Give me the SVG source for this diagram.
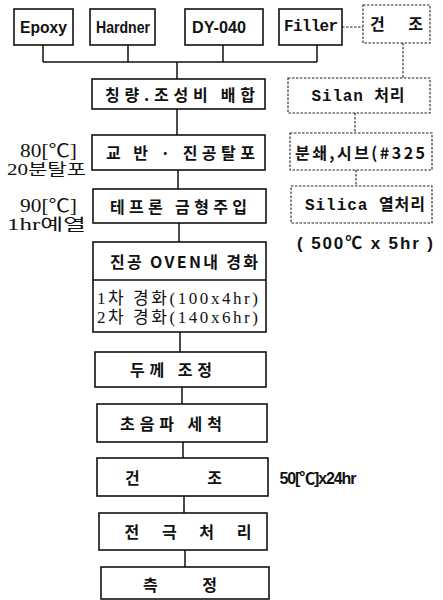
<svg xmlns="http://www.w3.org/2000/svg" width="443" height="600" viewBox="0 0 443 600">
<style>
.box{fill:#fff;stroke:#111;stroke-width:1.6}
.dbox{fill:#fff;stroke:#222;stroke-width:1.1;stroke-dasharray:2.5 1.5}
.ln{stroke:#111;stroke-width:1.5;fill:none}
.dln{stroke:#222;stroke-width:1.1;stroke-dasharray:2.5 1.5;fill:none}
text{fill:#111;dominant-baseline:central;text-anchor:middle}
.ko{font-family:"Noto Sans CJK KR",sans-serif;font-size:16px;font-weight:bold}
.en{font-family:"Liberation Sans","Noto Sans CJK KR",sans-serif;font-size:17px;font-weight:bold}
.mono{font-family:"Liberation Mono","Noto Sans CJK KR",monospace;font-size:16px;font-weight:bold}
.ser{font-family:"Liberation Serif","Noto Sans CJK KR",serif;font-size:17px}
.lbl{font-family:"Liberation Serif","Noto Sans CJK KR",serif;font-size:17px;text-anchor:end}
</style>
<rect width="443" height="600" fill="#fff"/>
<g id="connectors">
<path class="ln" d="M43 45V62M128 45V62M223 45V62M317 45V62M43 62H317M177 62V79"/>
<path class="ln" d="M177 109V135M178 170V189M179 223V242M180 332V352M182 387V404M183 442V458M184 496V513M185 550V567"/>
<path class="dln" d="M342 27H363M403 43V78M355 113V133M356 170V186"/>
</g>
<g id="epoxy"><rect class="box" x="14" y="9" width="59" height="36"/><text class="en" x="43.5" y="27" textLength="47" lengthAdjust="spacingAndGlyphs">Epoxy</text></g>
<g id="hardner"><rect class="box" x="90" y="9" width="65" height="36"/><text class="en" x="123" y="27" textLength="54" lengthAdjust="spacingAndGlyphs">Hardner</text></g>
<g id="dy040"><rect class="box" x="185" y="9" width="78" height="36"/><text class="en" x="219" y="27" textLength="54" lengthAdjust="spacingAndGlyphs">DY-040</text></g>
<g id="filler"><rect class="box" x="279" y="9" width="63" height="36"/><text class="mono" x="311" y="27" textLength="54">Filler</text></g>
<g id="dry1"><rect class="dbox" x="363" y="5" width="67" height="38"/><text class="ko" x="396.5" y="23" textLength="53">건 조</text></g>
<g id="silan"><rect class="dbox" x="288" y="78" width="142" height="35"/><text class="mono" x="358" y="97" textLength="93">Silan 처리</text></g>
<g id="crush"><rect class="dbox" x="290" y="133" width="142" height="37"/><text class="ko" x="360" y="152" textLength="130">분쇄,시브(#325</text></g>
<g id="silica"><rect class="dbox" x="291" y="186" width="141" height="37"/><text class="mono" x="365" y="206" textLength="120">Silica 열처리</text></g>
<g id="silica-note"><text class="en" x="365" y="243" textLength="136">( 500℃ x 5hr )</text></g>
<g id="weigh"><rect class="box" x="92" y="79" width="173" height="30"/><text class="ko" x="180" y="94" textLength="150">칭량.조성비 배합</text></g>
<g id="stir"><rect class="box" x="92" y="135" width="173" height="35"/><text class="ko" x="180.5" y="152" textLength="149">교 반 · 진공탈포</text><text class="lbl" x="77" y="151" textLength="57" lengthAdjust="spacingAndGlyphs" style="font-size:18px">80[℃]</text><text class="lbl" x="86" y="169" textLength="79" lengthAdjust="spacingAndGlyphs" style="font-size:16px">20분탈포</text></g>
<g id="mold"><rect class="box" x="93" y="189" width="173" height="34"/><text class="ko" x="178.5" y="206" textLength="137">테프론 금형주입</text><text class="lbl" x="77" y="206" textLength="57" lengthAdjust="spacingAndGlyphs" style="font-size:18px">90[℃]</text><text class="lbl" x="86" y="224" textLength="79" lengthAdjust="spacingAndGlyphs" style="font-size:16px">1hr예열</text></g>
<g id="oven"><rect class="box" x="93" y="242" width="173" height="90"/><path class="ln" d="M93 280H266"/><text class="ko" x="184" y="261" textLength="148">진공 OVEN내 경화</text><text class="ser" x="177.5" y="298" textLength="161">1차 경화(100x4hr)</text><text class="ser" x="177.5" y="317" textLength="161">2차 경화(140x6hr)</text></g>
<g id="thick"><rect class="box" x="95" y="352" width="171" height="35"/><text class="ko" x="171" y="369" textLength="82">두께 조정</text></g>
<g id="ultra"><rect class="box" x="97" y="404" width="170" height="38"/><text class="ko" x="171" y="423" textLength="102">초음파 세척</text></g>
<g id="dry2"><rect class="box" x="97" y="458" width="171" height="38"/><text class="ko" x="173.5" y="477" textLength="97">건 조</text><text class="en" x="318" y="478" textLength="77" style="font-size:16px">50[℃]x24hr</text></g>
<g id="electrode"><rect class="box" x="99" y="513" width="168" height="37"/><text class="ko" x="188" y="531" textLength="127">전 극 처 리</text></g>
<g id="measure"><rect class="box" x="101" y="567" width="168" height="32"/><text class="ko" x="180" y="584" textLength="74">측 정</text></g>
</svg>
